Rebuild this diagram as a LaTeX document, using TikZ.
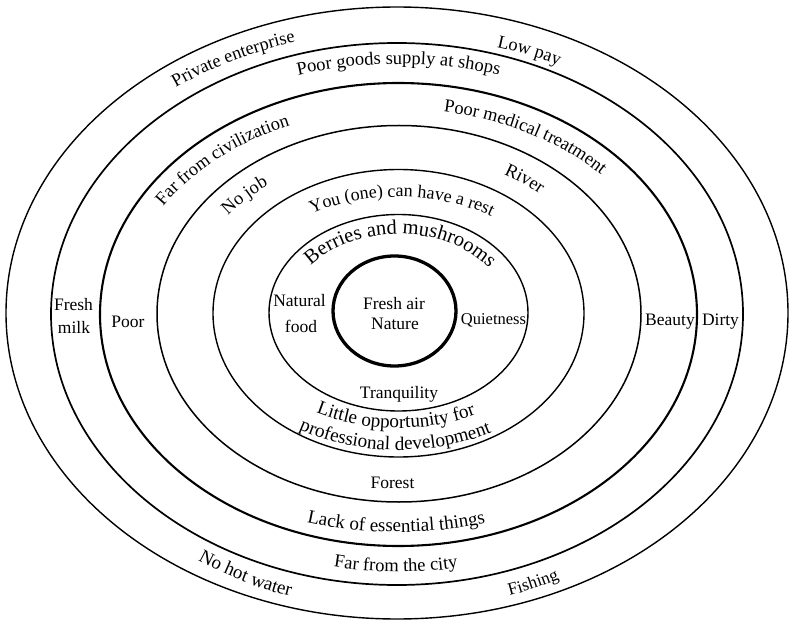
\documentclass[tikz,border=0pt]{standalone}
\usepackage{fontspec}
\setmainfont{Liberation Serif}
\usetikzlibrary{decorations.text,calc}
\newcommand\toparc[6]{%
  \pgfmathsetmacro\sa{#1+#4}\pgfmathsetmacro\ea{#1-#4}%
  \path[decorate,decoration={text along path,text align=center,
      text={|\fontsize{#5}{#5}\selectfont|#6}}]
    ($(C)+(\sa:#2pt and #3pt)$) arc[start angle=\sa, end angle=\ea, x radius=#2pt, y radius=#3pt];}
\newcommand\botarc[6]{%
  \pgfmathsetmacro\sa{#1-#4}\pgfmathsetmacro\ea{#1+#4}%
  \path[decorate,decoration={text along path,text align=center,
      text={|\fontsize{#5}{#5}\selectfont|#6}}]
    ($(C)+(\sa:#2pt and #3pt)$) arc[start angle=\sa, end angle=\ea, x radius=#2pt, y radius=#3pt];}
\begin{document}
\begin{tikzpicture}[x=1pt,y=1pt,
  lbl/.style={font=\fontsize{17.5}{21}\selectfont, inner sep=0pt, anchor=base}]
\useasboundingbox (0,0) rectangle (793,625);
\coordinate (C) at (398.5,312);
% rings
\coordinate (c1) at (397,312);
\coordinate (c2) at (397,311);
\coordinate (c3) at (398.5,310.5);
\coordinate (c4) at (399,311.25);
\coordinate (c5) at (398.5,311.75);
\coordinate (c6) at (398.5,312.25);
\coordinate (c7) at (394.5,314);
\draw[line width=1.4pt] (c1) ellipse [x radius=391pt, y radius=306pt];
\draw[line width=1.7pt] (c2) ellipse [x radius=346pt, y radius=271pt];
\draw[line width=2.1pt] (c3) ellipse [x radius=298.5pt, y radius=231.5pt];
\draw[line width=1.5pt] (c4) ellipse [x radius=242pt, y radius=188.25pt];
\draw[line width=1.4pt] (c5) ellipse [x radius=185.5pt, y radius=143.75pt];
\draw[line width=1.4pt] (c6) ellipse [x radius=129.5pt, y radius=98.25pt];
\draw[line width=3.3pt] (c7) ellipse [x radius=61.5pt, y radius=55pt];
% curved labels, top
\toparc{118.3}{370}{282}{35}{18.3}{Private enterprise}
\toparc{68}{364}{276}{30}{18.3}{Low pay}
\toparc{90}{340}{249}{45}{18.5}{Poor goods supply at shops}
\toparc{133.5}{276}{204}{40}{18.4}{Far from civilization}
\toparc{59.5}{275}{204}{40}{18.4}{Poor medical treatment}
\toparc{137}{214}{161}{30}{18.5}{No job}
\toparc{52.5}{212}{160}{30}{18.5}{River}
\toparc{88.5}{168}{116}{60}{18}{You (one) can have a rest}
\toparc{88.5}{110}{79}{80}{20.5}{Berries and mushrooms}
% curved labels, bottom
\botarc{268.8}{165}{115}{60}{19.2}{Little opportunity for}
\botarc{268.7}{190}{137}{60}{19.2}{professional development}
\botarc{269.5}{310}{219}{40}{19}{Lack of essential things}
\botarc{269.5}{330}{259}{35}{18.5}{Far from the city}
\botarc{243.6}{363}{297}{30}{19}{No hot water}
\botarc{292.7}{363}{297}{25}{17.5}{Fishing}
% straight labels
\node[lbl] (fresh1) at (73.5,315) {Fresh};
\node[lbl] (fresh2) at (74,291.7) {milk};
\node[lbl] (poor) at (128,297.3) {Poor};
\node[lbl] (nat1) at (299.5,318.5) {Natural};
\node[lbl] (nat2) at (301,292) {food};
\node[lbl] (core1) at (394,316) {Fresh air};
\node[lbl] (core2) at (395,295) {Nature};
\node[lbl,font=\fontsize{16.5}{20}\selectfont] (quiet) at (493.5,300.7) {Quietness};
\node[lbl] (beauty) at (670,300) {Beauty};
\node[lbl] (dirty) at (720.5,300) {Dirty};
\node[lbl] (tranq) at (399,227) {Tranquility};
\node[lbl] (forest) at (392.5,137) {Forest};
\end{tikzpicture}
\end{document}
